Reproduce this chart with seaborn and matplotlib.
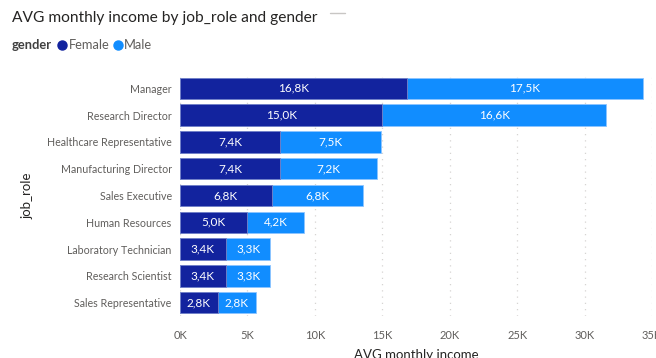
import matplotlib
matplotlib.use("Agg")
import matplotlib.pyplot as plt
from matplotlib.lines import Line2D
import seaborn as sns
import pandas as pd

job_roles = ["Manager", "Research Director", "Healthcare Representative",
             "Manufacturing Director", "Sales Executive", "Human Resources",
             "Laboratory Technician", "Research Scientist", "Sales Representative"]
female = [16.8, 15.0, 7.4, 7.4, 6.8, 5.0, 3.4, 3.4, 2.8]
male = [17.5, 16.6, 7.5, 7.2, 6.8, 4.2, 3.3, 3.3, 2.8]
x_ticks = [0, 5, 10, 15, 20, 25, 30, 35]

FEMALE_C = "#12239E"
MALE_C = "#118DFF"
FONT = "Lato"

sns.set_theme(style="white")
plt.rcParams["font.family"] = [FONT, "DejaVu Sans"]

df = pd.DataFrame({"job_role": job_roles,
                   "Female": [v * 1000 for v in female],
                   "Male": [v * 1000 for v in male]})
df["Total"] = df["Female"] + df["Male"]

W, H = 656, 358
fig = plt.figure(figsize=(W / 100, H / 100), dpi=100)
ax = fig.add_axes([180 / W, (H - 316) / H, (652 - 180) / W, (316 - 75) / H])

sns.barplot(data=df, y="job_role", x="Total", color=MALE_C, orient="h",
            width=0.8, ax=ax, saturation=1, edgecolor="#8CC4FF", linewidth=0.6)
sns.barplot(data=df, y="job_role", x="Female", color=FEMALE_C, orient="h",
            width=0.8, ax=ax, saturation=1, edgecolor="#7A84C8", linewidth=0.6)

for i, (f, m) in enumerate(zip(df["Female"], df["Male"])):
    ax.text(f / 2, i, f"{f/1000:.1f}K".replace(".", ","), color="white",
            ha="center", va="center", fontsize=8.5)
    ax.text(f + m / 2, i, f"{m/1000:.1f}K".replace(".", ","), color="white",
            ha="center", va="center", fontsize=8.5)

ax.set_xlim(0, 35000)
ax.set_xticks([t * 1000 for t in x_ticks])
ax.set_xticklabels([f"{t}K" for t in x_ticks])
ax.set_ylim(8.5, -0.5)
ax.grid(axis="x", color="#D6D4D2", linestyle=(0, (1, 4)), linewidth=0.9)
ax.set_axisbelow(True)
for s in ax.spines.values():
    s.set_visible(False)
ax.tick_params(axis="x", colors="#605E5C", labelsize=8, length=0, pad=10)
ax.tick_params(axis="y", colors="#605E5C", labelsize=7.7, length=0, pad=6)
ax.set_xlabel("AVG monthly income", fontsize=9.5, color="#252423", labelpad=6)
ax.set_ylabel("job_role", fontsize=9.5, color="#252423", labelpad=10)

fig.text(12 / W, 1 - 18 / H, "AVG monthly income by job_role and gender",
         fontsize=11.2, color="#252423", va="center", ha="left")
fig.text(12 / W, 1 - 45 / H, "gender", fontsize=9.3, fontweight="bold",
         color="#404040", va="center", ha="left")
fig.add_artist(Line2D([62 / W], [1 - 45 / H], marker="o", color=FEMALE_C,
                      markersize=6.5, transform=fig.transFigure))
fig.text(69 / W, 1 - 45 / H, "Female", fontsize=9.3, color="#605E5C",
         va="center", ha="left")
fig.add_artist(Line2D([118 / W], [1 - 45 / H], marker="o", color=MALE_C,
                      markersize=6.5, transform=fig.transFigure))
fig.text(124 / W, 1 - 45 / H, "Male", fontsize=9.3, color="#605E5C",
         va="center", ha="left")
fig.add_artist(Line2D([330 / W, 345 / W], [1 - 13 / H, 1 - 13 / H],
                      color="#C8C6C4", linewidth=1, transform=fig.transFigure))

fig.savefig("out.png", dpi=100)
